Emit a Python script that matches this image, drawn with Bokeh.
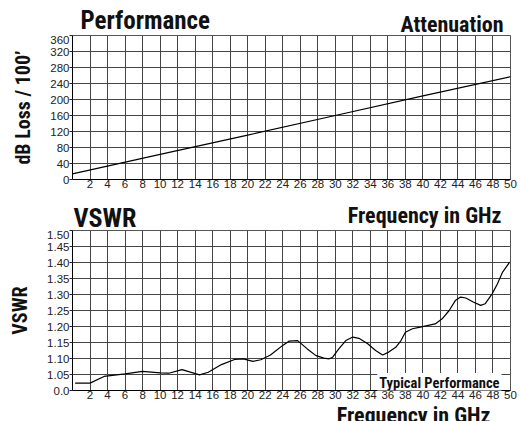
import math
from bokeh.plotting import figure
from bokeh.layouts import column
from bokeh.models import Range1d, FixedTicker, Label
from bokeh.embed import file_html
from bokeh.resources import INLINE

# ---- data ----
att_freq = [0, 10, 20, 30, 40, 50]
att_loss = [14, 63, 111, 160, 209, 257]

vswr_freq = [0.3, 2, 3.6, 6, 8, 10, 11, 12.5, 14.5, 15.5, 17, 18.5, 19.5, 20.6, 21.5,
             22.6, 24, 24.7, 25.7, 26.8, 27.8, 28.7, 29.3, 29.7, 30.4, 31.2, 32, 32.7,
             33.7, 34.6, 35.4, 36.1, 36.9, 37.5, 38, 38.8, 39.7, 41.4, 42.2, 43, 43.7,
             44.3, 44.9, 45.8, 46.6, 47.1, 47.9, 48.5, 49.1, 49.9]
vswr_val = [1.023, 1.023, 1.044, 1.052, 1.060, 1.055, 1.054, 1.065, 1.049, 1.057, 1.081,
            1.097, 1.099, 1.091, 1.096, 1.111, 1.141, 1.154, 1.156, 1.130, 1.109, 1.101,
            1.099, 1.104, 1.130, 1.156, 1.167, 1.163, 1.146, 1.125, 1.111, 1.120, 1.135,
            1.156, 1.182, 1.193, 1.198, 1.208, 1.224, 1.250, 1.281, 1.292, 1.289, 1.276,
            1.266, 1.271, 1.302, 1.333, 1.370, 1.401]

x_ticks = list(range(2, 51, 2))
att_ticks = list(range(0, 361, 40))
vswr_ticks = [1.00, 1.05, 1.10, 1.15, 1.20, 1.25, 1.30, 1.35, 1.40, 1.45, 1.50]
vswr_tick_labels = ["0.0", "1.05", "1.10", "1.15", "1.20", "1.25", "1.30", "1.35",
                    "1.40", "1.45", "1.50"]

HEAVY = "Roboto Condensed"
TICKF = "Liberation Sans"
GRID = "#444444"
INK = "#111111"


def style(p, yticks, ylabels=None):
    p.xaxis.ticker = FixedTicker(ticks=x_ticks)
    p.yaxis.ticker = FixedTicker(ticks=yticks)
    if ylabels is not None:
        p.yaxis.major_label_overrides = {t: l for t, l in zip(yticks, ylabels)}
    for ax in (p.xaxis[0], p.yaxis[0]):
        ax.axis_line_color = "black"
        ax.axis_line_width = 1
        ax.major_label_text_font = TICKF
        ax.major_label_text_font_size = "11.5px"
        ax.major_label_text_color = "#222222"
        ax.minor_tick_line_color = None
        ax.major_tick_in = 0
        ax.major_label_standoff = 0
    p.xaxis.major_tick_out = 0
    p.yaxis.major_tick_out = 3
    p.yaxis.major_tick_line_color = "#222222"
    p.yaxis.axis_label_text_font = HEAVY
    p.yaxis.axis_label_text_font_style = "bold"
    p.yaxis.axis_label_text_font_size = "20px"
    p.yaxis.axis_label_text_color = INK
    p.yaxis.axis_label_standoff = 12
    p.xgrid.grid_line_color = GRID
    p.ygrid.grid_line_color = GRID
    p.xgrid.grid_line_width = 1
    p.ygrid.grid_line_width = 1
    p.outline_line_color = "#555555"
    p.outline_line_width = 1
    p.background_fill_color = "white"
    p.border_fill_color = "white"


def banner(height):
    # text strip whose frame is aligned with the charts' frames (x 72..510 on the page)
    h = figure(width=520, height=height, output_backend="svg", toolbar_location=None,
               x_range=Range1d(0, 50), y_range=Range1d(0, height),
               x_axis_type=None, y_axis_type=None,
               min_border_left=72, min_border_right=10, min_border_top=0,
               min_border_bottom=0)
    h.xgrid.visible = False
    h.ygrid.visible = False
    h.outline_line_color = None
    h.background_fill_color = "white"
    h.border_fill_color = "white"
    return h


def lab(p, text, x, y, size, align="left", bg=None):
    l = Label(x=x, y=y, x_units="screen", y_units="screen", text=text,
              text_font=HEAVY, text_font_style="bold", text_font_size=size,
              text_color=INK, text_align=align, text_baseline="alphabetic")
    if bg is not None:
        l.background_fill_color = bg
        l.padding = 2
    p.add_layout(l)


# ---- header of the attenuation chart ----
h1 = banner(35)
lab(h1, "Performance", 8, 15, "25px")
lab(h1, "Attenuation", 431, 11.5, "22px", align="right")

# ---- attenuation chart ----
p1 = figure(width=520, height=168, output_backend="svg", toolbar_location=None,
            x_range=Range1d(0, 50), y_range=Range1d(0, 360),
            min_border_left=72, min_border_right=10, min_border_top=0,
            min_border_bottom=24)
style(p1, att_ticks)
p1.yaxis.axis_label = "dB Loss / 100\u2019"
p1.line(att_freq, att_loss, line_color="black", line_width=1.2)

# ---- header of the VSWR chart ----
h2 = banner(27)
lab(h2, "VSWR", 1, 13, "26px")
lab(h2, "Frequency in GHz", 429, 15, "22px", align="right")

# ---- VSWR chart ----
p2 = figure(width=520, height=175, output_backend="svg", toolbar_location=None,
            x_range=Range1d(0, 50), y_range=Range1d(1.0, 1.5),
            min_border_left=72, min_border_right=10, min_border_top=0,
            min_border_bottom=15)
style(p2, vswr_ticks, vswr_tick_labels)
p2.yaxis.axis_label = "VSWR"
p2.line(vswr_freq, vswr_val, line_color="black", line_width=1.2)
lab(p2, "Typical Performance", 429, 7, "14.5px", align="right", bg="white")

# ---- footer ----
f1 = banner(16)
lab(f1, "Frequency in GHz", 418, 6, "22px", align="right")

layout = column(h1, p1, h2, p2, f1, spacing=0)
open("out.html", "w").write(file_html(layout, INLINE))
